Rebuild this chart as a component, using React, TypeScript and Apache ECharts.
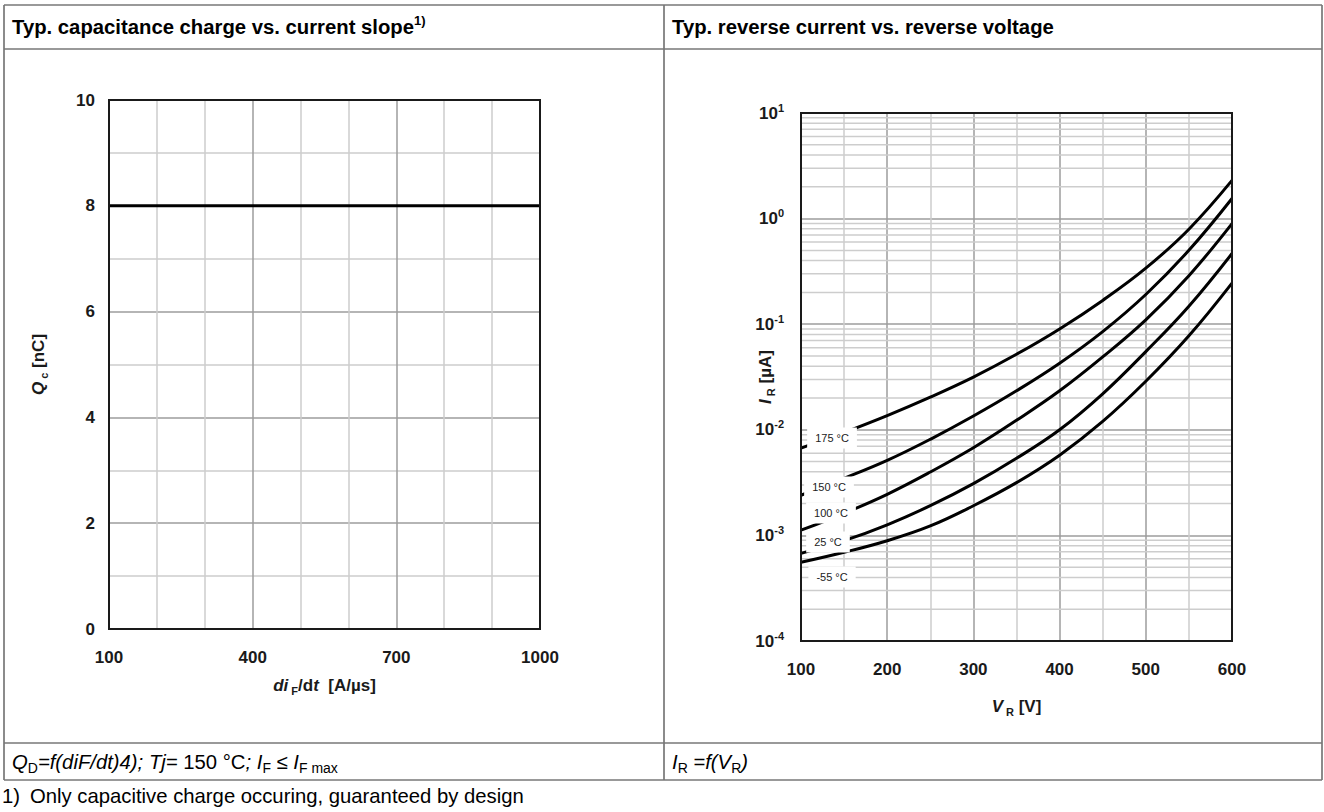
import React, { useEffect, useRef } from 'react';
import * as echarts from 'echarts';

// ---------- Left chart: capacitive charge vs. current slope ----------
const slopeValues = [100, 1000]; // diF/dt [A/µs]
const chargeValues = [8, 8]; // Qc [nC]
const slopeTickLabels = ['100', '400', '700', '1000'];
const chargeTickLabels = ['0', '2', '4', '6', '8', '10'];

// ---------- Right chart: reverse current vs. reverse voltage ----------
const voltageValues = [100, 150, 200, 250, 300, 350, 400, 450, 500, 550, 600]; // VR [V]
const temperatureLabels = ['175 °C', '150 °C', '100 °C', '25 °C', '-55 °C'];
const current175 = [0.0067, 0.00944, 0.01365, 0.0204, 0.0316, 0.0519, 0.0902, 0.168, 0.339, 0.794, 2.3];
const current150 = [0.0024, 0.00347, 0.00513, 0.00813, 0.0135, 0.0234, 0.0427, 0.0851, 0.191, 0.501, 1.55];
const current100 = [0.00112, 0.00162, 0.00245, 0.00398, 0.00676, 0.0123, 0.0234, 0.049, 0.11, 0.288, 0.897];
const current25 = [0.000676, 0.000891, 0.00126, 0.00191, 0.00309, 0.00537, 0.01, 0.0219, 0.055, 0.148, 0.467];
const currentM55 = [0.000556, 0.000692, 0.000891, 0.00123, 0.00191, 0.00316, 0.00575, 0.012, 0.0288, 0.0776, 0.245];
const currentExponents = ['-4', '-3', '-2', '-1', '0', '1'];

const FONT = '"Liberation Sans", Arial, Helvetica, sans-serif';
const MAJOR = '#9c9c9c';
const MINOR = '#cdcdcd';
const INK = '#1a1a1a';
const TABLE = '#777777';

// placement of the temperature tags (in data units of the right chart)
const tagPlacement: [number, number][] = [
  [136, 0.00836],
  [132.5, 0.00287],
  [134.8, 0.00163],
  [131.3, 0.000865],
  [136, 0.000404],
];

export default function App() {
  const ref = useRef<HTMLDivElement>(null);

  useEffect(() => {
    if (!ref.current) return;
    const chart = echarts.init(ref.current, undefined, { renderer: 'svg' });

    const axisLabelStyle = { fontFamily: FONT, fontSize: 17, fontWeight: 'bold', color: INK };
    const nameRich = {
      i: { fontFamily: FONT, fontSize: 17, fontWeight: 'bold', fontStyle: 'italic', color: INK, lineHeight: 22 },
      b: { fontFamily: FONT, fontSize: 17, fontWeight: 'bold', color: INK, lineHeight: 22 },
      sub: { fontFamily: FONT, fontSize: 11, fontWeight: 'bold', color: INK, lineHeight: 12, verticalAlign: 'bottom' },
    };

    const minorLog: number[] = [];
    for (let d = -4; d <= 0; d++) {
      for (let m = 2; m <= 9; m++) minorLog.push(m * Math.pow(10, d));
    }

    const curves = [current175, current150, current100, current25, currentM55];

    const text = (x: number, y: number, str: string, rich: any) => ({
      type: 'text',
      z: 50,
      style: { x, y, text: str, rich, verticalAlign: 'middle', align: 'left' },
    });
    const line = (x1: number, y1: number, x2: number, y2: number) => ({
      type: 'line',
      z: 50,
      shape: { x1, y1, x2, y2 },
      style: { stroke: TABLE, lineWidth: 1.7 },
    });

    const headRich = {
      h: { fontFamily: FONT, fontSize: 20.3, fontWeight: 'bold', color: '#000', lineHeight: 26 },
      sup: { fontFamily: FONT, fontSize: 13, fontWeight: 'bold', color: '#000', lineHeight: 14, verticalAlign: 'top' },
    };
    const footRich = {
      i: { fontFamily: FONT, fontSize: 20.3, fontStyle: 'italic', color: '#000', lineHeight: 26 },
      n: { fontFamily: FONT, fontSize: 20.3, color: '#000', lineHeight: 26 },
      sub: { fontFamily: FONT, fontSize: 14, color: '#000', lineHeight: 13, verticalAlign: 'bottom' },
    };

    const option: any = {
      animation: false,
      backgroundColor: '#ffffff',
      textStyle: { fontFamily: FONT },
      grid: [
        { left: 109, top: 100, width: 431, height: 529, show: false },
        { left: 801, top: 113, width: 431, height: 528, show: false },
      ],
      xAxis: [
        {
          type: 'value',
          gridIndex: 0,
          min: 100,
          max: 1000,
          interval: 100,
          axisLine: { show: true, onZero: false, lineStyle: { color: INK, width: 2 } },
          axisTick: { show: false },
          axisLabel: {
            ...axisLabelStyle,
            margin: 20,
            formatter: (v: number) => (slopeTickLabels.includes(String(v)) ? String(v) : ''),
          },
          splitLine: { show: true, lineStyle: { color: [MAJOR, MINOR, MINOR], width: 1.5 } },
          name: '{i|di}{sub| F}{b|/d}{i|t}{b|  [A/µs]}',
          nameLocation: 'middle',
          nameGap: 45,
          nameMoveOverlap: false,
          nameTextStyle: { rich: nameRich, verticalAlign: 'top' },
        },
        {
          type: 'value',
          gridIndex: 1,
          min: 100,
          max: 600,
          interval: 50,
          axisLine: { show: true, onZero: false, lineStyle: { color: INK, width: 2 } },
          axisTick: { show: false },
          axisLabel: {
            ...axisLabelStyle,
            margin: 20,
            formatter: (v: number) => (v % 100 === 0 ? String(v) : ''),
          },
          splitLine: { show: true, lineStyle: { color: [MAJOR, MINOR], width: 1.5 } },
          name: '{i|V}{sub| R}{b| [V]}',
          nameLocation: 'middle',
          nameGap: 54,
          nameMoveOverlap: false,
          nameTextStyle: { rich: nameRich, verticalAlign: 'top' },
        },
      ],
      yAxis: [
        {
          type: 'value',
          gridIndex: 0,
          min: 0,
          max: 10,
          interval: 1,
          axisLine: { show: true, onZero: false, lineStyle: { color: INK, width: 2 } },
          axisTick: { show: false },
          axisLabel: {
            ...axisLabelStyle,
            margin: 14,
            formatter: (v: number) => (chargeTickLabels.includes(String(v)) ? String(v) : ''),
          },
          splitLine: { show: true, lineStyle: { color: [MAJOR, MINOR], width: 1.5 } },
          name: '{i|Q}{sub| c}{b| [nC]}',
          nameLocation: 'middle',
          nameRotate: 90,
          nameGap: 60,
          nameMoveOverlap: false,
          nameTextStyle: { rich: nameRich },
        },
        {
          type: 'log',
          gridIndex: 1,
          logBase: 10,
          min: 0.0001,
          max: 10,
          axisLine: { show: true, onZero: false, lineStyle: { color: INK, width: 2 } },
          axisTick: { show: false },
          axisLabel: {
            margin: 17,
            formatter: (v: number) => {
              const e = String(Math.round(Math.log10(v)));
              return currentExponents.includes(e) ? `{b|10}{s|${e}}` : '';
            },
            rich: {
              b: { fontFamily: FONT, fontSize: 17, fontWeight: 'bold', color: INK, lineHeight: 22 },
              s: { fontFamily: FONT, fontSize: 11, fontWeight: 'bold', color: INK, lineHeight: 12, verticalAlign: 'top' },
            },
          },
          splitLine: { show: true, lineStyle: { color: MAJOR, width: 1.5 } },
          name: '{i|I}{sub| R}{b| [µA]}',
          nameLocation: 'middle',
          nameRotate: 90,
          nameGap: 25,
          nameMoveOverlap: false,
          nameTextStyle: { rich: nameRich },
        },
      ],
      series: [
        {
          type: 'line',
          xAxisIndex: 0,
          yAxisIndex: 0,
          data: slopeValues.map((x, i) => [x, chargeValues[i]]),
          symbol: 'none',
          lineStyle: { color: '#000', width: 3 },
          z: 3,
          silent: true,
        },
        {
          type: 'custom',
          xAxisIndex: 1,
          yAxisIndex: 1,
          silent: true,
          z: 1,
          data: minorLog.map((v) => [100, v]),
          renderItem: (_params: any, api: any) => {
            const v = api.value(1);
            const p1 = api.coord([100, v]);
            const p2 = api.coord([600, v]);
            return {
              type: 'line',
              shape: { x1: p1[0], y1: p1[1], x2: p2[0], y2: p2[1] },
              style: { stroke: MINOR, lineWidth: 1.5 },
            };
          },
        },
        ...curves.map((c, k) => ({
          type: 'line',
          name: temperatureLabels[k],
          xAxisIndex: 1,
          yAxisIndex: 1,
          data: voltageValues.map((v, i) => [v, c[i]]),
          smooth: 0.4,
          symbol: 'none',
          lineStyle: { color: '#000', width: 3 },
          z: 4,
          silent: true,
        })),
        {
          type: 'scatter',
          xAxisIndex: 1,
          yAxisIndex: 1,
          symbolSize: 0,
          silent: true,
          z: 10,
          itemStyle: { opacity: 1 },
          data: temperatureLabels.map((t, k) => ({ name: t, value: tagPlacement[k] })),
          label: {
            show: true,
            position: 'inside',
            formatter: (p: any) => p.name,
            backgroundColor: '#ffffff',
            opacity: 1,
            padding: [5, 8],
            color: '#222',
            fontFamily: FONT,
            fontSize: 11,
          },
        },
      ],
      graphic: [
        // plot frames
        { type: 'rect', z: 40, shape: { x: 109, y: 100, width: 431, height: 529 }, style: { fill: 'none', stroke: INK, lineWidth: 2 } },
        { type: 'rect', z: 40, shape: { x: 801, y: 113, width: 431, height: 528 }, style: { fill: 'none', stroke: INK, lineWidth: 2 } },
        // table
        line(4, 5, 1322, 5),
        line(4, 49, 1322, 49),
        line(4, 743, 1322, 743),
        line(4, 780, 1322, 780),
        line(4, 5, 4, 780),
        line(664, 5, 664, 780),
        line(1322, 5, 1322, 780),
        text(12, 27, '{h|Typ. capacitance charge vs. current slope}{sup|1)}', headRich),
        text(672, 27, '{h|Typ. reverse current vs. reverse voltage}', headRich),
        text(12, 762, '{i|Q}{sub|D}{i|=f(diF/dt)4); Tj=}{n| 150 °C}{i|; I}{sub|F}{n| ≤ }{i|I}{sub|F max}', footRich),
        text(672, 762, '{i|I}{sub|R}{i| =f(V}{sub|R}{i|)}', footRich),
        text(2, 796, '{n|1)}', footRich),
        text(30, 796, '{n|Only capacitive charge occuring, guaranteed by design}', footRich),
      ],
    };

    chart.setOption(option);
    return () => chart.dispose();
  }, []);

  return (
    <div
      ref={ref}
      style={{ position: 'absolute', left: 0, top: 0, width: 1324, height: 812, background: '#fff' }}
    />
  );
}
